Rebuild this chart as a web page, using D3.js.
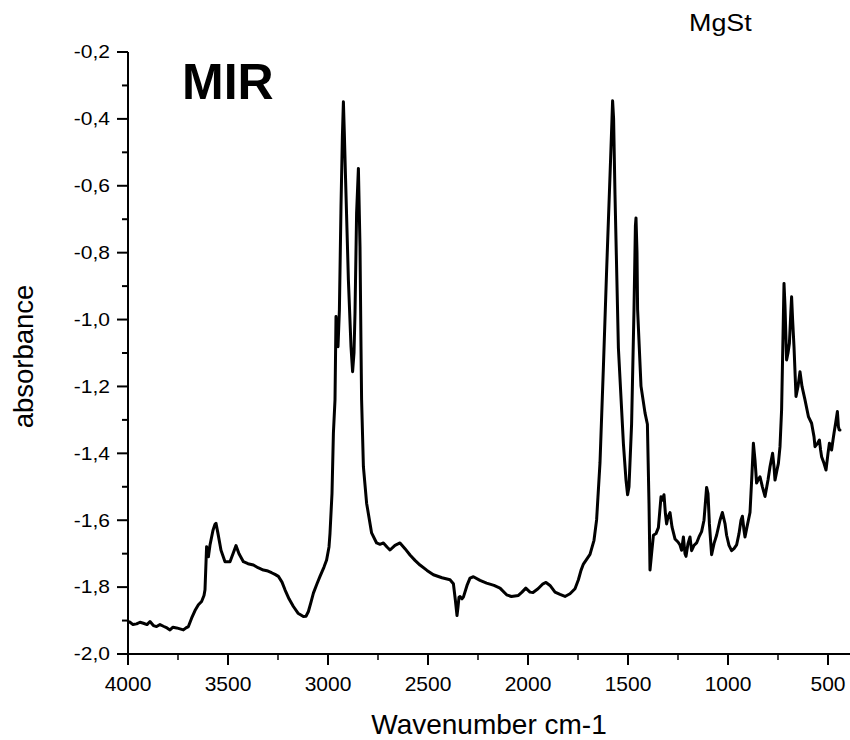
<!DOCTYPE html>
<html>
<head>
<meta charset="utf-8">
<script src="https://cdn.jsdelivr.net/npm/d3@7"></script>
<style>
  html, body { margin: 0; padding: 0; background: #fff; }
  svg { display: block; }
  text { font-family: "Liberation Sans", Arial, sans-serif; fill: #000; }
</style>
</head>
<body>
<svg id="chart" width="850" height="740"></svg>
<script>
// ---- data ----
const wavenumber = [
3998,3990,3975,3957,3940,3923,3905,3890,3873,3857,3840,3823,3805,3790,3775,3757,3740,3723,3710,3698,
3682,3665,3648,3632,3620,3615,3607,3600,3598,3590,3575,3565,3560,3550,3535,3515,3490,3475,3460,3445,
3423,3400,3373,3350,3323,3300,3282,3265,3248,3230,3215,3195,3173,3150,3123,3110,3098,3085,3073,3055,
3040,3020,3007,2995,2990,2980,2973,2965,2960,2955,2950,2943,2935,2928,2923,2918,2912,2898,2885,2877,
2870,2865,2857,2848,2840,2835,2832,2823,2807,2782,2757,2740,2723,2705,2690,2665,2640,2615,2590,2565,
2540,2505,2473,2430,2390,2373,2363,2355,2350,2345,2340,2330,2323,2305,2290,2273,2240,2207,2170,2140,
2107,2083,2048,2030,2011,1990,1975,1950,1925,1910,1890,1865,1840,1815,1790,1765,1748,1735,1723,1690,
1670,1657,1640,1623,1607,1590,1580,1577,1572,1565,1548,1523,1510,1502,1495,1482,1470,1463,1460,1455,
1452,1435,1415,1403,1395,1390,1382,1373,1360,1348,1335,1328,1320,1313,1307,1300,1290,1280,1265,1250,
1240,1232,1223,1215,1210,1200,1190,1182,1170,1157,1145,1132,1120,1107,1100,1093,1082,1070,1057,1040,
1028,1015,1007,995,982,970,957,945,935,928,920,915,905,890,880,873,865,857,850,840,
828,815,800,790,777,770,765,755,748,740,732,725,720,715,707,700,693,686,682,677,
670,660,650,640,630,615,598,582,570,565,552,543,537,532,520,510,500,493,482,475,
470,462,453,448,444,440
];
const absorbance = [
-1.903,-1.905,-1.912,-1.910,-1.905,-1.908,-1.912,-1.903,-1.915,-1.918,-1.912,-1.917,-1.922,-1.928,-1.920,-1.922,-1.925,-1.928,-1.922,-1.918,
-1.893,-1.870,-1.853,-1.843,-1.825,-1.808,-1.679,-1.700,-1.709,-1.674,-1.630,-1.612,-1.609,-1.640,-1.690,-1.724,-1.724,-1.700,-1.676,-1.700,
-1.724,-1.730,-1.734,-1.742,-1.749,-1.752,-1.757,-1.762,-1.768,-1.785,-1.808,-1.835,-1.858,-1.878,-1.888,-1.887,-1.873,-1.845,-1.818,-1.790,
-1.768,-1.740,-1.719,-1.680,-1.639,-1.520,-1.340,-1.240,-0.991,-1.050,-1.081,-0.971,-0.662,-0.450,-0.349,-0.450,-0.583,-0.882,-1.081,-1.156,
-1.100,-0.981,-0.682,-0.548,-0.782,-1.081,-1.240,-1.440,-1.549,-1.638,-1.668,-1.672,-1.668,-1.680,-1.689,-1.675,-1.668,-1.685,-1.704,-1.720,
-1.734,-1.750,-1.763,-1.772,-1.778,-1.790,-1.840,-1.885,-1.860,-1.830,-1.828,-1.835,-1.830,-1.795,-1.773,-1.769,-1.780,-1.788,-1.795,-1.803,
-1.823,-1.828,-1.825,-1.815,-1.803,-1.815,-1.816,-1.805,-1.790,-1.786,-1.795,-1.815,-1.822,-1.828,-1.820,-1.805,-1.778,-1.750,-1.731,-1.702,
-1.660,-1.599,-1.428,-1.142,-0.855,-0.570,-0.400,-0.346,-0.400,-0.627,-1.085,-1.371,-1.480,-1.524,-1.500,-1.312,-0.970,-0.720,-0.696,-0.800,
-0.970,-1.199,-1.279,-1.313,-1.550,-1.749,-1.700,-1.645,-1.640,-1.622,-1.530,-1.540,-1.524,-1.580,-1.611,-1.590,-1.577,-1.620,-1.656,-1.665,
-1.674,-1.690,-1.650,-1.700,-1.708,-1.670,-1.650,-1.691,-1.675,-1.668,-1.650,-1.634,-1.600,-1.502,-1.520,-1.611,-1.703,-1.670,-1.645,-1.600,
-1.577,-1.610,-1.645,-1.675,-1.691,-1.685,-1.674,-1.640,-1.600,-1.588,-1.630,-1.650,-1.620,-1.577,-1.460,-1.370,-1.420,-1.489,-1.480,-1.470,
-1.500,-1.529,-1.480,-1.440,-1.400,-1.440,-1.480,-1.450,-1.430,-1.380,-1.270,-1.050,-0.892,-0.960,-1.121,-1.100,-1.071,-0.980,-0.932,-1.000,
-1.081,-1.230,-1.200,-1.156,-1.200,-1.240,-1.290,-1.310,-1.350,-1.380,-1.370,-1.360,-1.390,-1.410,-1.430,-1.450,-1.400,-1.370,-1.390,-1.360,
-1.340,-1.310,-1.275,-1.320,-1.330,-1.330
];
const xMajorTicks = [4000, 3500, 3000, 2500, 2000, 1500, 1000, 500];
const xMinorTicks = [3750, 3250, 2750, 2250, 1750, 1250, 750];
const yMajorTicks = [-2.0, -1.8, -1.6, -1.4, -1.2, -1.0, -0.8, -0.6, -0.4, -0.2];
const yMinorTicks = [-1.9, -1.7, -1.5, -1.3, -1.1, -0.9, -0.7, -0.5, -0.3];
const titleText = "MIR";
const sampleText = "MgSt";
const xTitle = "Wavenumber cm-1";
const yTitle = "absorbance";

// ---- layout ----
const svg = d3.select("#chart");
const x = d3.scaleLinear().domain([4000, 390]).range([128, 850]);
const y = d3.scaleLinear().domain([-2.0, -0.2]).range([654, 52]);
const fmt = v => d3.format(".1f")(v).replace(".", ",").replace("\u2212", "-");

// x axis
const gx = svg.append("g").attr("transform", "translate(0,654)");
gx.append("line").attr("x1", 128).attr("x2", 850).attr("y1", 0).attr("y2", 0)
  .attr("stroke", "#000").attr("stroke-width", 2);
gx.selectAll("line.maj").data(xMajorTicks).join("line").attr("class", "maj")
  .attr("x1", d => x(d)).attr("x2", d => x(d)).attr("y1", 0).attr("y2", 11)
  .attr("stroke", "#000").attr("stroke-width", 2);
gx.selectAll("line.min").data(xMinorTicks).join("line").attr("class", "min")
  .attr("x1", d => x(d)).attr("x2", d => x(d)).attr("y1", 0).attr("y2", 6)
  .attr("stroke", "#000").attr("stroke-width", 1.5);
gx.selectAll("text").data(xMajorTicks).join("text")
  .attr("x", d => x(d)).attr("y", 37).attr("text-anchor", "middle")
  .style("font-size", "21px").text(d => d);

// y axis
const gy = svg.append("g");
gy.append("line").attr("x1", 128).attr("x2", 128).attr("y1", 52).attr("y2", 654)
  .attr("stroke", "#000").attr("stroke-width", 2);
gy.selectAll("line.maj").data(yMajorTicks).join("line").attr("class", "maj")
  .attr("x1", 117).attr("x2", 128).attr("y1", d => y(d)).attr("y2", d => y(d))
  .attr("stroke", "#000").attr("stroke-width", 2);
gy.selectAll("line.min").data(yMinorTicks).join("line").attr("class", "min")
  .attr("x1", 122).attr("x2", 128).attr("y1", d => y(d)).attr("y2", d => y(d))
  .attr("stroke", "#000").attr("stroke-width", 2);
gy.selectAll("text").data(yMajorTicks).join("text")
  .attr("transform", d => `translate(110,${y(d) + 6.3}) scale(1.2,1)`)
  .attr("text-anchor", "end").style("font-size", "17.5px").text(d => fmt(d));

// titles
svg.append("text").attr("x", 489).attr("y", 734).attr("text-anchor", "middle")
  .style("font-size", "28px").text(xTitle);
svg.append("text").attr("transform", "translate(33,356.5) rotate(-90)")
  .attr("text-anchor", "middle").style("font-size", "27.5px").text(yTitle);
svg.append("text").attr("x", 182).attr("y", 99)
  .style("font-size", "50px").style("font-weight", "bold").text(titleText);
svg.append("text").attr("transform", "translate(689,31) scale(1.12,1)")
  .style("font-size", "24px").text(sampleText);

// spectrum
const pts = wavenumber.map((w, i) => [w, absorbance[i]]);
const line = d3.line().x(d => x(d[0])).y(d => y(d[1]));
svg.append("path").datum(pts).attr("d", line)
  .attr("fill", "none").attr("stroke", "#000").attr("stroke-width", 3)
  .attr("stroke-linejoin", "round").attr("stroke-linecap", "round");
</script>
</body>
</html>
